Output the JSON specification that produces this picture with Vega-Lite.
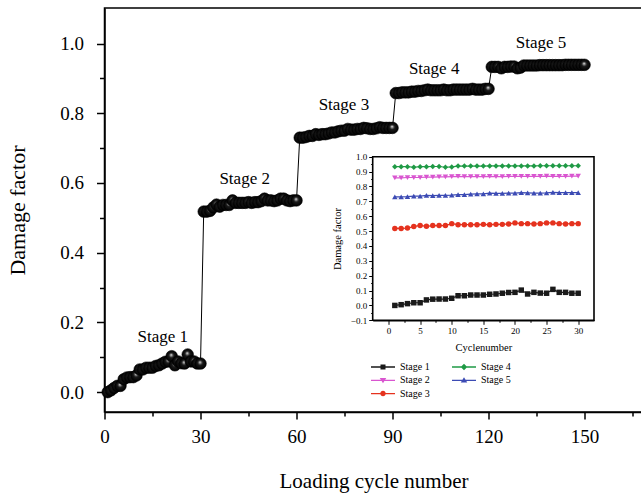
{
"$schema": "https://vega.github.io/schema/vega-lite/v6.json",
"width": 538,
"height": 404,
"autosize": {"type": "none"},
"padding": {"left": 104.5, "top": 8, "right": 0, "bottom": 88},
"config": {
  "font": "Liberation Serif, serif",
  "view": {"stroke": "#000", "strokeWidth": 1.5},
  "axis": {"grid": false, "domainColor": "#000", "domainWidth": 1.5, "tickColor": "#000", "tickWidth": 1.5, "labelColor": "#000", "titleColor": "#000", "labelFont": "Liberation Serif, serif", "titleFont": "Liberation Serif, serif", "titleFontWeight": "normal", "labelFlush": false, "labelOverlap": false},
  "legend": {"labelFont": "Liberation Serif, serif"},
  "text": {"font": "Liberation Serif, serif"}
},
"datasets": {
  "main": [
    {"cycle":1,"damage":0},{"cycle":2,"damage":0.005},{"cycle":3,"damage":0.012},{"cycle":4,"damage":0.018},{"cycle":5,"damage":0.018},{"cycle":6,"damage":0.037},{"cycle":7,"damage":0.042},{"cycle":8,"damage":0.043},{"cycle":9,"damage":0.043},{"cycle":10,"damage":0.048},{"cycle":11,"damage":0.065},{"cycle":12,"damage":0.065},{"cycle":13,"damage":0.07},{"cycle":14,"damage":0.07},{"cycle":15,"damage":0.07},{"cycle":16,"damage":0.075},{"cycle":17,"damage":0.077},{"cycle":18,"damage":0.082},{"cycle":19,"damage":0.087},{"cycle":20,"damage":0.088},{"cycle":21,"damage":0.103},{"cycle":22,"damage":0.077},{"cycle":23,"damage":0.088},{"cycle":24,"damage":0.083},{"cycle":25,"damage":0.082},{"cycle":26,"damage":0.108},{"cycle":27,"damage":0.088},{"cycle":28,"damage":0.088},{"cycle":29,"damage":0.082},{"cycle":30,"damage":0.082},
    {"cycle":31,"damage":0.518},{"cycle":32,"damage":0.518},{"cycle":33,"damage":0.52},{"cycle":34,"damage":0.53},{"cycle":35,"damage":0.538},{"cycle":36,"damage":0.532},{"cycle":37,"damage":0.537},{"cycle":38,"damage":0.537},{"cycle":39,"damage":0.537},{"cycle":40,"damage":0.55},{"cycle":41,"damage":0.543},{"cycle":42,"damage":0.543},{"cycle":43,"damage":0.543},{"cycle":44,"damage":0.543},{"cycle":45,"damage":0.545},{"cycle":46,"damage":0.543},{"cycle":47,"damage":0.545},{"cycle":48,"damage":0.545},{"cycle":49,"damage":0.548},{"cycle":50,"damage":0.555},{"cycle":51,"damage":0.55},{"cycle":52,"damage":0.55},{"cycle":53,"damage":0.548},{"cycle":54,"damage":0.55},{"cycle":55,"damage":0.555},{"cycle":56,"damage":0.555},{"cycle":57,"damage":0.55},{"cycle":58,"damage":0.548},{"cycle":59,"damage":0.55},{"cycle":60,"damage":0.55},
    {"cycle":61,"damage":0.73},{"cycle":62,"damage":0.73},{"cycle":63,"damage":0.732},{"cycle":64,"damage":0.735},{"cycle":65,"damage":0.735},{"cycle":66,"damage":0.74},{"cycle":67,"damage":0.738},{"cycle":68,"damage":0.74},{"cycle":69,"damage":0.74},{"cycle":70,"damage":0.742},{"cycle":71,"damage":0.745},{"cycle":72,"damage":0.745},{"cycle":73,"damage":0.748},{"cycle":74,"damage":0.75},{"cycle":75,"damage":0.75},{"cycle":76,"damage":0.755},{"cycle":77,"damage":0.753},{"cycle":78,"damage":0.753},{"cycle":79,"damage":0.755},{"cycle":80,"damage":0.755},{"cycle":81,"damage":0.758},{"cycle":82,"damage":0.757},{"cycle":83,"damage":0.755},{"cycle":84,"damage":0.755},{"cycle":85,"damage":0.757},{"cycle":86,"damage":0.76},{"cycle":87,"damage":0.758},{"cycle":88,"damage":0.758},{"cycle":89,"damage":0.758},{"cycle":90,"damage":0.758},
    {"cycle":91,"damage":0.858},{"cycle":92,"damage":0.858},{"cycle":93,"damage":0.86},{"cycle":94,"damage":0.86},{"cycle":95,"damage":0.86},{"cycle":96,"damage":0.862},{"cycle":97,"damage":0.862},{"cycle":98,"damage":0.864},{"cycle":99,"damage":0.864},{"cycle":100,"damage":0.866},{"cycle":101,"damage":0.868},{"cycle":102,"damage":0.866},{"cycle":103,"damage":0.866},{"cycle":104,"damage":0.866},{"cycle":105,"damage":0.866},{"cycle":106,"damage":0.868},{"cycle":107,"damage":0.866},{"cycle":108,"damage":0.866},{"cycle":109,"damage":0.868},{"cycle":110,"damage":0.868},{"cycle":111,"damage":0.868},{"cycle":112,"damage":0.868},{"cycle":113,"damage":0.868},{"cycle":114,"damage":0.868},{"cycle":115,"damage":0.87},{"cycle":116,"damage":0.868},{"cycle":117,"damage":0.868},{"cycle":118,"damage":0.868},{"cycle":119,"damage":0.87},{"cycle":120,"damage":0.87},
    {"cycle":121,"damage":0.933},{"cycle":122,"damage":0.933},{"cycle":123,"damage":0.933},{"cycle":124,"damage":0.929},{"cycle":125,"damage":0.933},{"cycle":126,"damage":0.933},{"cycle":127,"damage":0.934},{"cycle":128,"damage":0.934},{"cycle":129,"damage":0.929},{"cycle":130,"damage":0.931},{"cycle":131,"damage":0.937},{"cycle":132,"damage":0.937},{"cycle":133,"damage":0.937},{"cycle":134,"damage":0.937},{"cycle":135,"damage":0.937},{"cycle":136,"damage":0.938},{"cycle":137,"damage":0.938},{"cycle":138,"damage":0.938},{"cycle":139,"damage":0.938},{"cycle":140,"damage":0.938},{"cycle":141,"damage":0.938},{"cycle":142,"damage":0.938},{"cycle":143,"damage":0.938},{"cycle":144,"damage":0.939},{"cycle":145,"damage":0.939},{"cycle":146,"damage":0.939},{"cycle":147,"damage":0.939},{"cycle":148,"damage":0.939},{"cycle":149,"damage":0.939},{"cycle":150,"damage":0.939}
  ],
  "labels": [
    {"label":"Stage 1","cycle":18.2,"damage":0.158},
    {"label":"Stage 2","cycle":43.8,"damage":0.611},
    {"label":"Stage 3","cycle":74.8,"damage":0.824},
    {"label":"Stage 4","cycle":103.0,"damage":0.927},
    {"label":"Stage 5","cycle":136.4,"damage":1.003}
  ],
  "inset": [
    {"series":"Stage 1","cycle":1,"damage":0},{"series":"Stage 1","cycle":2,"damage":0.005},{"series":"Stage 1","cycle":3,"damage":0.012},{"series":"Stage 1","cycle":4,"damage":0.018},{"series":"Stage 1","cycle":5,"damage":0.018},{"series":"Stage 1","cycle":6,"damage":0.037},{"series":"Stage 1","cycle":7,"damage":0.042},{"series":"Stage 1","cycle":8,"damage":0.043},{"series":"Stage 1","cycle":9,"damage":0.043},{"series":"Stage 1","cycle":10,"damage":0.048},{"series":"Stage 1","cycle":11,"damage":0.065},{"series":"Stage 1","cycle":12,"damage":0.065},{"series":"Stage 1","cycle":13,"damage":0.07},{"series":"Stage 1","cycle":14,"damage":0.07},{"series":"Stage 1","cycle":15,"damage":0.07},{"series":"Stage 1","cycle":16,"damage":0.075},{"series":"Stage 1","cycle":17,"damage":0.077},{"series":"Stage 1","cycle":18,"damage":0.082},{"series":"Stage 1","cycle":19,"damage":0.087},{"series":"Stage 1","cycle":20,"damage":0.088},{"series":"Stage 1","cycle":21,"damage":0.103},{"series":"Stage 1","cycle":22,"damage":0.077},{"series":"Stage 1","cycle":23,"damage":0.088},{"series":"Stage 1","cycle":24,"damage":0.083},{"series":"Stage 1","cycle":25,"damage":0.082},{"series":"Stage 1","cycle":26,"damage":0.108},{"series":"Stage 1","cycle":27,"damage":0.088},{"series":"Stage 1","cycle":28,"damage":0.088},{"series":"Stage 1","cycle":29,"damage":0.082},{"series":"Stage 1","cycle":30,"damage":0.082},
    {"series":"Stage 2","cycle":1,"damage":0.858},{"series":"Stage 2","cycle":2,"damage":0.858},{"series":"Stage 2","cycle":3,"damage":0.86},{"series":"Stage 2","cycle":4,"damage":0.86},{"series":"Stage 2","cycle":5,"damage":0.86},{"series":"Stage 2","cycle":6,"damage":0.862},{"series":"Stage 2","cycle":7,"damage":0.862},{"series":"Stage 2","cycle":8,"damage":0.864},{"series":"Stage 2","cycle":9,"damage":0.864},{"series":"Stage 2","cycle":10,"damage":0.866},{"series":"Stage 2","cycle":11,"damage":0.868},{"series":"Stage 2","cycle":12,"damage":0.866},{"series":"Stage 2","cycle":13,"damage":0.866},{"series":"Stage 2","cycle":14,"damage":0.866},{"series":"Stage 2","cycle":15,"damage":0.866},{"series":"Stage 2","cycle":16,"damage":0.868},{"series":"Stage 2","cycle":17,"damage":0.866},{"series":"Stage 2","cycle":18,"damage":0.866},{"series":"Stage 2","cycle":19,"damage":0.868},{"series":"Stage 2","cycle":20,"damage":0.868},{"series":"Stage 2","cycle":21,"damage":0.868},{"series":"Stage 2","cycle":22,"damage":0.868},{"series":"Stage 2","cycle":23,"damage":0.868},{"series":"Stage 2","cycle":24,"damage":0.868},{"series":"Stage 2","cycle":25,"damage":0.87},{"series":"Stage 2","cycle":26,"damage":0.868},{"series":"Stage 2","cycle":27,"damage":0.868},{"series":"Stage 2","cycle":28,"damage":0.868},{"series":"Stage 2","cycle":29,"damage":0.87},{"series":"Stage 2","cycle":30,"damage":0.87},
    {"series":"Stage 3","cycle":1,"damage":0.518},{"series":"Stage 3","cycle":2,"damage":0.518},{"series":"Stage 3","cycle":3,"damage":0.52},{"series":"Stage 3","cycle":4,"damage":0.53},{"series":"Stage 3","cycle":5,"damage":0.538},{"series":"Stage 3","cycle":6,"damage":0.532},{"series":"Stage 3","cycle":7,"damage":0.537},{"series":"Stage 3","cycle":8,"damage":0.537},{"series":"Stage 3","cycle":9,"damage":0.537},{"series":"Stage 3","cycle":10,"damage":0.55},{"series":"Stage 3","cycle":11,"damage":0.543},{"series":"Stage 3","cycle":12,"damage":0.543},{"series":"Stage 3","cycle":13,"damage":0.543},{"series":"Stage 3","cycle":14,"damage":0.543},{"series":"Stage 3","cycle":15,"damage":0.545},{"series":"Stage 3","cycle":16,"damage":0.543},{"series":"Stage 3","cycle":17,"damage":0.545},{"series":"Stage 3","cycle":18,"damage":0.545},{"series":"Stage 3","cycle":19,"damage":0.548},{"series":"Stage 3","cycle":20,"damage":0.555},{"series":"Stage 3","cycle":21,"damage":0.55},{"series":"Stage 3","cycle":22,"damage":0.55},{"series":"Stage 3","cycle":23,"damage":0.548},{"series":"Stage 3","cycle":24,"damage":0.55},{"series":"Stage 3","cycle":25,"damage":0.555},{"series":"Stage 3","cycle":26,"damage":0.555},{"series":"Stage 3","cycle":27,"damage":0.55},{"series":"Stage 3","cycle":28,"damage":0.548},{"series":"Stage 3","cycle":29,"damage":0.55},{"series":"Stage 3","cycle":30,"damage":0.55},
    {"series":"Stage 4","cycle":1,"damage":0.933},{"series":"Stage 4","cycle":2,"damage":0.933},{"series":"Stage 4","cycle":3,"damage":0.933},{"series":"Stage 4","cycle":4,"damage":0.929},{"series":"Stage 4","cycle":5,"damage":0.933},{"series":"Stage 4","cycle":6,"damage":0.933},{"series":"Stage 4","cycle":7,"damage":0.934},{"series":"Stage 4","cycle":8,"damage":0.934},{"series":"Stage 4","cycle":9,"damage":0.929},{"series":"Stage 4","cycle":10,"damage":0.931},{"series":"Stage 4","cycle":11,"damage":0.937},{"series":"Stage 4","cycle":12,"damage":0.937},{"series":"Stage 4","cycle":13,"damage":0.937},{"series":"Stage 4","cycle":14,"damage":0.937},{"series":"Stage 4","cycle":15,"damage":0.937},{"series":"Stage 4","cycle":16,"damage":0.938},{"series":"Stage 4","cycle":17,"damage":0.938},{"series":"Stage 4","cycle":18,"damage":0.938},{"series":"Stage 4","cycle":19,"damage":0.938},{"series":"Stage 4","cycle":20,"damage":0.938},{"series":"Stage 4","cycle":21,"damage":0.938},{"series":"Stage 4","cycle":22,"damage":0.938},{"series":"Stage 4","cycle":23,"damage":0.938},{"series":"Stage 4","cycle":24,"damage":0.939},{"series":"Stage 4","cycle":25,"damage":0.939},{"series":"Stage 4","cycle":26,"damage":0.939},{"series":"Stage 4","cycle":27,"damage":0.939},{"series":"Stage 4","cycle":28,"damage":0.939},{"series":"Stage 4","cycle":29,"damage":0.939},{"series":"Stage 4","cycle":30,"damage":0.939},
    {"series":"Stage 5","cycle":1,"damage":0.73},{"series":"Stage 5","cycle":2,"damage":0.73},{"series":"Stage 5","cycle":3,"damage":0.732},{"series":"Stage 5","cycle":4,"damage":0.735},{"series":"Stage 5","cycle":5,"damage":0.735},{"series":"Stage 5","cycle":6,"damage":0.74},{"series":"Stage 5","cycle":7,"damage":0.738},{"series":"Stage 5","cycle":8,"damage":0.74},{"series":"Stage 5","cycle":9,"damage":0.74},{"series":"Stage 5","cycle":10,"damage":0.742},{"series":"Stage 5","cycle":11,"damage":0.745},{"series":"Stage 5","cycle":12,"damage":0.745},{"series":"Stage 5","cycle":13,"damage":0.748},{"series":"Stage 5","cycle":14,"damage":0.75},{"series":"Stage 5","cycle":15,"damage":0.75},{"series":"Stage 5","cycle":16,"damage":0.755},{"series":"Stage 5","cycle":17,"damage":0.753},{"series":"Stage 5","cycle":18,"damage":0.753},{"series":"Stage 5","cycle":19,"damage":0.755},{"series":"Stage 5","cycle":20,"damage":0.755},{"series":"Stage 5","cycle":21,"damage":0.758},{"series":"Stage 5","cycle":22,"damage":0.757},{"series":"Stage 5","cycle":23,"damage":0.755},{"series":"Stage 5","cycle":24,"damage":0.755},{"series":"Stage 5","cycle":25,"damage":0.757},{"series":"Stage 5","cycle":26,"damage":0.76},{"series":"Stage 5","cycle":27,"damage":0.758},{"series":"Stage 5","cycle":28,"damage":0.758},{"series":"Stage 5","cycle":29,"damage":0.758},{"series":"Stage 5","cycle":30,"damage":0.758}
  ]
},
"layer": [
  {
    "data": {"name": "main"},
    "layer": [
      {
        "mark": {"type": "line", "color": "#000", "strokeWidth": 1},
        "encoding": {
          "x": {"field": "cycle", "type": "quantitative",
            "scale": {"domain": [0, 168.1], "nice": false, "zero": false},
            "axis": {"orient": "bottom", "values": [0,15,30,45,60,75,90,105,120,135,150,165], "format": "d",
              "labelExpr": "datum.value % 30 === 0 ? datum.label : ''",
              "tickSize": {"condition": {"test": "datum.value % 30 === 0", "value": 7}, "value": 4},
              "labelFontSize": {"condition": {"test": "datum.value % 30 === 0", "value": 19}, "value": 1},
              "labelPadding": 8, "labelOverlap": false,
              "title": "Loading cycle number", "titleFontSize": 21, "titlePadding": 24}},
          "y": {"field": "damage", "type": "quantitative",
            "scale": {"domain": [-0.057, 1.102], "nice": false, "zero": false},
            "axis": {"orient": "left", "values": [0,0.1,0.2,0.3,0.4,0.5,0.6,0.7,0.8,0.9,1.0], "format": ".1f",
              "labelExpr": "round(datum.value*10) % 2 === 0 ? datum.label : ''",
              "tickSize": {"condition": {"test": "round(datum.value*10) % 2 === 0", "value": 8}, "value": 5},
              "labelFontSize": {"condition": {"test": "round(datum.value*10) % 2 === 0", "value": 19}, "value": 1},
              "labelPadding": 13, "labelOverlap": false,
              "title": "Damage factor", "titleFontSize": 22, "titlePadding": 30}}
        }
      },
      {
        "mark": {"type": "circle", "size": 135, "opacity": 1, "stroke": "#000", "strokeWidth": 0.6,
          "fill": {"gradient": "radial", "x1": 0.45, "y1": 0.38, "r1": 0, "x2": 0.5, "y2": 0.5, "r2": 0.5,
            "stops": [{"offset": 0, "color": "#f2f2f2"}, {"offset": 0.18, "color": "#8a8a8a"}, {"offset": 0.42, "color": "#1a1a1a"}, {"offset": 1, "color": "#000000"}]}},
        "encoding": {
          "x": {"field": "cycle", "type": "quantitative"},
          "y": {"field": "damage", "type": "quantitative"}
        }
      },
      {
        "data": {"name": "labels"},
        "mark": {"type": "text", "font": "Liberation Serif, serif", "fontSize": 17, "color": "#000", "align": "center", "baseline": "middle"},
        "encoding": {
          "x": {"field": "cycle", "type": "quantitative"},
          "y": {"field": "damage", "type": "quantitative"},
          "text": {"field": "label", "type": "nominal"}
        }
      }
    ]
  },
  {
    "data": {"name": "inset"},
    "layer": [
      {
        "data": {"values": [{}]},
        "mark": {"type": "rect", "fill": "#fff", "stroke": "#000", "strokeWidth": 1.6},
        "encoding": {
          "x": {"datum": -2.5, "type": "quantitative",
            "scale": {"domain": [-2.5, 32.5], "range": [268.2, 489.5], "nice": false, "zero": false},
            "axis": {"orient": "bottom", "offset": -91.7, "values": [0,2.5,5,7.5,10,12.5,15,17.5,20,22.5,25,27.5,30], "format": "d",
              "labelExpr": "datum.value % 5 === 0 ? datum.label : ''",
              "tickSize": {"condition": {"test": "datum.value % 5 === 0", "value": 4}, "value": 2},
              "labelFontSize": {"condition": {"test": "datum.value % 5 === 0", "value": 9}, "value": 1},
              "tickWidth": 1, "domainWidth": 1.6, "labelOverlap": false, "labelPadding": 2,
              "title": "Cyclenumber", "titleFontSize": 10.5, "titlePadding": 7}},
          "x2": {"datum": 32.5},
          "y": {"datum": -0.1, "type": "quantitative",
            "scale": {"domain": [-0.1, 1.0], "range": [312.3, 148.7], "nice": false, "zero": false},
            "axis": {"orient": "left", "offset": -268.2, "values": [-0.1,0,0.1,0.2,0.3,0.4,0.5,0.6,0.7,0.8,0.9,1.0], "format": ".1f",
              "tickSize": 4, "tickWidth": 1, "domainWidth": 1.6, "labelOverlap": false, "labelPadding": 2,
              "labelFontSize": 9,
              "title": "Damage factor", "titleFontSize": 10.5, "titlePadding": 8}},
          "y2": {"datum": 1.0}
        }
      },
      {
        "mark": {"type": "line", "strokeWidth": 1.2},
        "encoding": {
          "x": {"field": "cycle", "type": "quantitative"},
          "y": {"field": "damage", "type": "quantitative",
            "axis": {"orient": "left", "offset": -268.2, "values": [-0.05,0.05,0.15,0.25,0.35,0.45,0.55,0.65,0.75,0.85,0.95],
              "labels": false, "domain": false, "tickSize": 2, "tickWidth": 1, "title": null}},
          "color": {"field": "series", "type": "nominal",
            "scale": {"domain": ["Stage 1","Stage 2","Stage 3","Stage 4","Stage 5"], "range": ["#1a1a1a","#d955d0","#e5321e","#1f9a45","#3c4bb4"]},
            "legend": null}
        }
      },
      {
        "mark": {"type": "point", "filled": true, "opacity": 1, "size": 30, "strokeWidth": 0},
        "encoding": {
          "x": {"field": "cycle", "type": "quantitative"},
          "y": {"field": "damage", "type": "quantitative", "axis": null},
          "color": {"field": "series", "type": "nominal",
            "scale": {"domain": ["Stage 1","Stage 2","Stage 3","Stage 4","Stage 5"], "range": ["#1a1a1a","#d955d0","#e5321e","#1f9a45","#3c4bb4"]},
            "legend": null},
          "shape": {"field": "series", "type": "nominal",
            "scale": {"domain": ["Stage 1","Stage 2","Stage 3","Stage 4","Stage 5"], "range": ["square","triangle-down","circle","diamond","triangle-up"]},
            "legend": null}
        }
      },
      {
        "transform": [{"filter": "false"}],
        "mark": {"type": "point", "filled": true, "opacity": 1},
        "encoding": {
          "color": {"field": "series", "type": "nominal",
            "scale": {"domain": ["Stage 1","Stage 2","Stage 3","Stage 4","Stage 5"], "range": ["#1a1a1a","#d955d0","#e5321e","#1f9a45","#3c4bb4"]},
            "legend": {"title": null, "orient": "none", "legendX": 273.5, "legendY": 354, "columns": 2, "padding": 0,
              "labelFont": "Liberation Serif, serif", "labelFontSize": 10, "labelColor": "#000", "labelOffset": 12,
              "symbolSize": 100, "symbolStrokeWidth": 0, "symbolOpacity": 1, "rowPadding": 3.3, "columnPadding": 22}},
          "shape": {"field": "series", "type": "nominal",
            "scale": {"domain": ["Stage 1","Stage 2","Stage 3","Stage 4","Stage 5"],
              "range": [
                "M-2.4,-0.13H2.4V0.13H-2.4Z M-0.5,-0.5H0.5V0.5H-0.5Z",
                "M-2.4,-0.13H2.4V0.13H-2.4Z M-0.65,-0.45L0.65,-0.45L0,0.6Z",
                "M-2.4,-0.13H2.4V0.13H-2.4Z M-0.55,0A0.55,0.55 0 1,1 0.55,0A0.55,0.55 0 1,1 -0.55,0Z",
                "M-2.4,-0.13H2.4V0.13H-2.4Z M0,-0.65L0.65,0L0,0.65L-0.65,0Z",
                "M-2.4,-0.13H2.4V0.13H-2.4Z M0.65,0.45L-0.65,0.45L0,-0.6Z"
              ]},
            "legend": {"title": null, "orient": "none", "legendX": 273.5, "legendY": 354, "columns": 2, "padding": 0,
              "labelFont": "Liberation Serif, serif", "labelFontSize": 10, "labelColor": "#000", "labelOffset": 12,
              "symbolSize": 100, "symbolStrokeWidth": 0, "symbolOpacity": 1, "rowPadding": 3.3, "columnPadding": 22}}
        }
      }
    ],
    "resolve": {"scale": {"color": "independent", "shape": "independent"}, "axis": {"y": "independent"}}
  }
],
"resolve": {"scale": {"x": "independent", "y": "independent"}, "axis": {"x": "independent", "y": "independent"}}
}
